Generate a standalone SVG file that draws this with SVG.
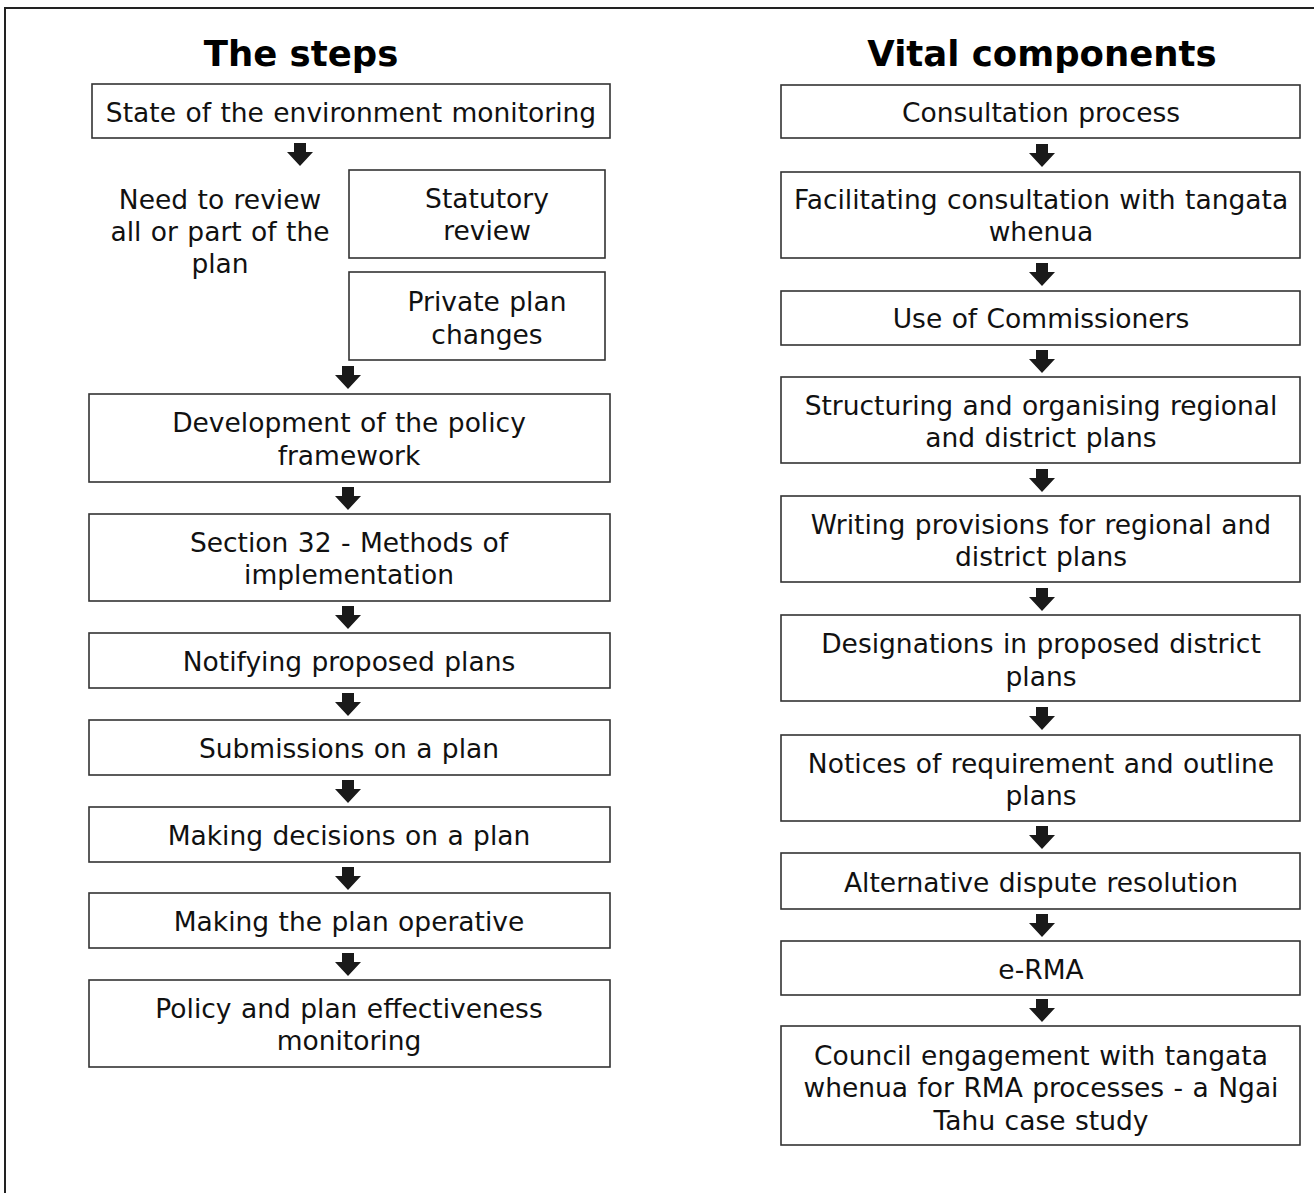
<svg xmlns="http://www.w3.org/2000/svg" width="1314" height="1193" viewBox="0 0 1314 1193">
<style>
.box{fill:#fff;stroke:#333;stroke-width:1.6}
.t{font-family:"DejaVu Sans",Verdana,sans-serif;font-size:26.5px;word-spacing:1px;fill:#111;text-anchor:middle}
.h{font-family:"DejaVu Sans",Verdana,sans-serif;font-size:35.5px;font-weight:bold;fill:#000;text-anchor:middle}
.arr{fill:#1a1a1a}
</style>
<defs>
<path id="arrow" d="M-6,0 H6 V9 H13 L0,23 L-13,9 H-6 Z"/>
</defs>
<rect width="1314" height="1193" fill="#fff"/>
<path d="M5,1193 V8 H1314" fill="none" stroke="#222" stroke-width="2"/>
<text class="h" x="301" y="66">The steps</text>
<text class="h" x="1042" y="66">Vital components</text>

<g id="s1"><rect class="box" x="92" y="84" width="518" height="54"/><text class="t" x="351" y="122">State of the environment monitoring</text></g>
<g id="s2"><text class="t" x="220" y="209">Need to review</text><text class="t" x="220" y="241">all or part of the</text><text class="t" x="220" y="273">plan</text></g>
<g id="s3"><rect class="box" x="349" y="170" width="256" height="88"/><text class="t" x="487" y="208">Statutory</text><text class="t" x="487" y="240">review</text></g>
<g id="s4"><rect class="box" x="349" y="272" width="256" height="88"/><text class="t" x="487" y="311">Private plan</text><text class="t" x="487" y="344">changes</text></g>
<g id="s5"><rect class="box" x="89" y="394" width="521" height="88"/><text class="t" x="349" y="432">Development of the policy</text><text class="t" x="349" y="465">framework</text></g>
<g id="s6"><rect class="box" x="89" y="514" width="521" height="87"/><text class="t" x="349" y="552">Section 32 - Methods of</text><text class="t" x="349" y="584">implementation</text></g>
<g id="s7"><rect class="box" x="89" y="633" width="521" height="55"/><text class="t" x="349" y="671">Notifying proposed plans</text></g>
<g id="s8"><rect class="box" x="89" y="720" width="521" height="55"/><text class="t" x="349" y="758">Submissions on a plan</text></g>
<g id="s9"><rect class="box" x="89" y="807" width="521" height="55"/><text class="t" x="349" y="845">Making decisions on a plan</text></g>
<g id="s10"><rect class="box" x="89" y="893" width="521" height="55"/><text class="t" x="349" y="931">Making the plan operative</text></g>
<g id="s11"><rect class="box" x="89" y="980" width="521" height="87"/><text class="t" x="349" y="1018">Policy and plan effectiveness</text><text class="t" x="349" y="1050">monitoring</text></g>

<g id="v1"><rect class="box" x="781" y="85" width="519" height="53"/><text class="t" x="1041" y="122">Consultation process</text></g>
<g id="v2"><rect class="box" x="781" y="172" width="519" height="86"/><text class="t" x="1041" y="209">Facilitating consultation with tangata</text><text class="t" x="1041" y="241">whenua</text></g>
<g id="v3"><rect class="box" x="781" y="291" width="519" height="54"/><text class="t" x="1041" y="328">Use of Commissioners</text></g>
<g id="v4"><rect class="box" x="781" y="377" width="519" height="86"/><text class="t" x="1041" y="415">Structuring and organising regional</text><text class="t" x="1041" y="447">and district plans</text></g>
<g id="v5"><rect class="box" x="781" y="496" width="519" height="86"/><text class="t" x="1041" y="534">Writing provisions for regional and</text><text class="t" x="1041" y="566">district plans</text></g>
<g id="v6"><rect class="box" x="781" y="615" width="519" height="86"/><text class="t" x="1041" y="653">Designations in proposed district</text><text class="t" x="1041" y="686">plans</text></g>
<g id="v7"><rect class="box" x="781" y="735" width="519" height="86"/><text class="t" x="1041" y="773">Notices of requirement and outline</text><text class="t" x="1041" y="805">plans</text></g>
<g id="v8"><rect class="box" x="781" y="853" width="519" height="56"/><text class="t" x="1041" y="892">Alternative dispute resolution</text></g>
<g id="v9"><rect class="box" x="781" y="941" width="519" height="54"/><text class="t" x="1041" y="979">e-RMA</text></g>
<g id="v10"><rect class="box" x="781" y="1026" width="519" height="119"/><text class="t" x="1041" y="1065">Council engagement with tangata</text><text class="t" x="1041" y="1097">whenua for RMA processes - a Ngai</text><text class="t" x="1041" y="1130">Tahu case study</text></g>

<g id="connectors" class="arr">
<use href="#arrow" x="300" y="143"/>
<use href="#arrow" x="348" y="366"/>
<use href="#arrow" x="348" y="487"/>
<use href="#arrow" x="348" y="606"/>
<use href="#arrow" x="348" y="693"/>
<use href="#arrow" x="348" y="780"/>
<use href="#arrow" x="348" y="867"/>
<use href="#arrow" x="348" y="953"/>
<use href="#arrow" x="1042" y="144"/>
<use href="#arrow" x="1042" y="263"/>
<use href="#arrow" x="1042" y="350"/>
<use href="#arrow" x="1042" y="469"/>
<use href="#arrow" x="1042" y="588"/>
<use href="#arrow" x="1042" y="707"/>
<use href="#arrow" x="1042" y="826"/>
<use href="#arrow" x="1042" y="914"/>
<use href="#arrow" x="1042" y="999"/>
</g>
</svg>
